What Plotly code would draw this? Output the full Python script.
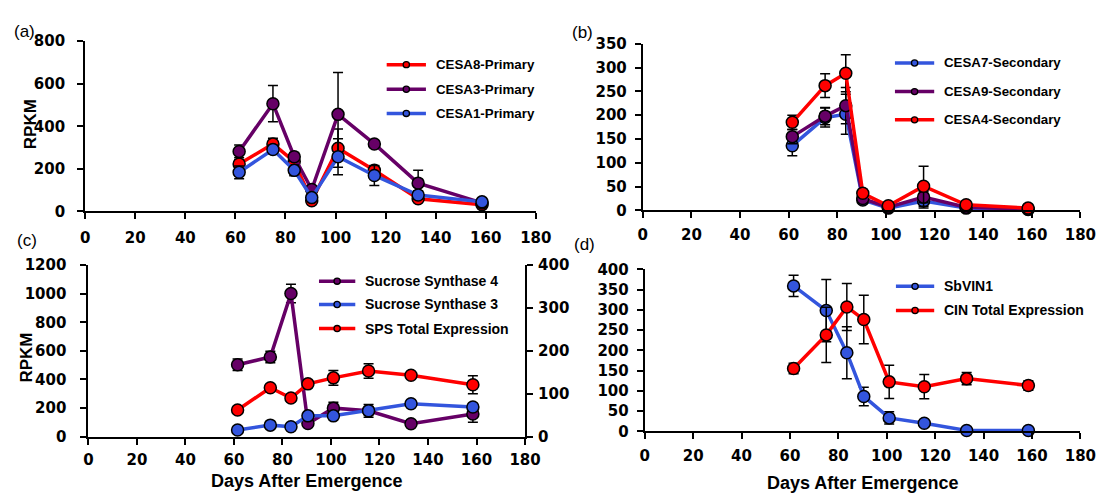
import plotly.graph_objects as go

W, H = 1117, 501

# Sampling dates (days after emergence), shared by all four panels
days = [61.5, 75, 83.5, 90.5, 101, 115.5, 133, 158.5]
x_ticks = [0, 20, 40, 60, 80, 100, 120, 140, 160, 180]

# (a) primary cell wall CESA genes (RPKM, mean and error)
cesa8_primary = [223, 317, 234, 50, 297, 193, 60, 32]
cesa8_primary_err = [20, 27, 20, 15, 90, 20, 15, 10]
cesa3_primary = [282, 506, 257, 103, 456, 317, 133, 40]
cesa3_primary_err = [30, 85, 20, 15, 196, 15, 60, 10]
cesa1_primary = [184, 291, 193, 65, 257, 169, 77, 45]
cesa1_primary_err = [30, 20, 25, 15, 85, 47, 20, 10]

# (b) secondary cell wall CESA genes
cesa7_secondary = [136, 195, 202, 22, 5, 20, 5, 2]
cesa7_secondary_err = [21, 20, 42, 5, 3, 15, 3, 1]
cesa9_secondary = [155, 198, 220, 25, 7, 28, 7, 3]
cesa9_secondary_err = [15, 18, 38, 5, 3, 12, 3, 1]
cesa4_secondary = [185, 262, 288, 36, 10, 51, 12, 5]
cesa4_secondary_err = [15, 25, 39, 8, 4, 42, 4, 2]

# (c) sucrose synthases (left axis) and SPS total (right axis)
sus4 = [503, 557, 1001, 91, 199, 180, 90, 158]
sus4_err = [40, 40, 65, 15, 42, 44, 15, 57]
sus3 = [46, 80, 69, 145, 145, 181, 230, 207]
sus3_err = [10, 10, 10, 15, 15, 15, 20, 20]
sps_total = [62, 114, 90, 123, 137, 153, 143, 121]
sps_total_err = [5, 5, 5, 7, 17, 17, 7, 21]

# (d) invertases
sbvin1 = [359, 298, 194, 86, 33, 20, 2, 2]
sbvin1_err = [26, 77, 64, 23, 15, 8, 3, 3]
cin_total = [155, 238, 307, 276, 122, 110, 130, 113]
cin_total_err = [13, 68, 58, 60, 41, 30, 15, 12]

RED = "#ff0000"
PURPLE = "#660066"
BLUE = "#3355dd"

TICK_FONT = dict(family="DejaVu Sans", size=15, color="black", weight="bold")
LEG_FONT_SMALL = dict(family="Liberation Sans", size=13.3, color="black", weight="bold")
LEG_FONT = dict(family="Liberation Sans", size=14, color="black", weight="bold")
TITLE_FONT = dict(family="Liberation Sans", size=18, color="black", weight="bold")
YTITLE_FONT = dict(family="Liberation Sans", size=17, color="black", weight="bold")
PANEL_FONT = dict(family="Liberation Sans", size=17, color="black")


def px(x):
    return x / W


def py(y):
    return 1 - y / H


fig = go.Figure()


def series(xa, ya, y, err, color, name):
    fig.add_trace(go.Scatter(
        x=days, y=y, name=name, xaxis=xa, yaxis=ya,
        mode="lines+markers", cliponaxis=False, showlegend=False,
        line=dict(color=color, width=3.5),
        marker=dict(size=12, color=color, line=dict(color="black", width=1.5)),
        error_y=dict(type="data", array=err, color="black", thickness=1.5, width=5),
    ))


# panel (a)
series("x", "y", cesa8_primary, cesa8_primary_err, RED, "CESA8-Primary")
series("x", "y", cesa3_primary, cesa3_primary_err, PURPLE, "CESA3-Primary")
series("x", "y", cesa1_primary, cesa1_primary_err, BLUE, "CESA1-Primary")
# panel (b)
series("x2", "y2", cesa7_secondary, cesa7_secondary_err, BLUE, "CESA7-Secondary")
series("x2", "y2", cesa9_secondary, cesa9_secondary_err, PURPLE, "CESA9-Secondary")
series("x2", "y2", cesa4_secondary, cesa4_secondary_err, RED, "CESA4-Secondary")
# panel (c)
series("x3", "y3", sus4, sus4_err, PURPLE, "Sucrose Synthase 4")
series("x3", "y3", sus3, sus3_err, BLUE, "Sucrose Synthase 3")
series("x3", "y5", sps_total, sps_total_err, RED, "SPS Total Expression")
# panel (d)
series("x4", "y4", sbvin1, sbvin1_err, BLUE, "SbVIN1")
series("x4", "y4", cin_total, cin_total_err, RED, "CIN Total Expression")

axis_common = dict(
    showline=True, linecolor="black", linewidth=2, mirror=False,
    ticks="outside", ticklen=6, tickwidth=2, tickcolor="black",
    showgrid=False, zeroline=False, tickfont=TICK_FONT,
)


def xaxis(left, right, anchor, standoff):
    return dict(axis_common, domain=[px(left), px(right)], anchor=anchor,
                range=[0, 180], tickvals=x_ticks, ticklabelstandoff=standoff)


def yaxis(top, bottom, anchor, rng, dtick, standoff):
    return dict(axis_common, domain=[py(bottom), py(top)], anchor=anchor,
                range=rng, dtick=dtick, tick0=0, ticklabelstandoff=standoff)


fig.update_layout(
    width=W, height=H,
    margin=dict(l=0, r=0, t=0, b=0),
    paper_bgcolor="white", plot_bgcolor="white",
    xaxis=xaxis(81.7, 541, "y", 6),
    yaxis=yaxis(33.3, 210, "x", [0, 800], 200, 9),
    xaxis2=xaxis(650, 1096, "y2", 4),
    yaxis2=yaxis(36, 209, "x2", [0, 350], 50, 5),
    xaxis3=xaxis(85, 530, "y3", 2),
    yaxis3=yaxis(265.7, 443.5, "x3", [0, 1200], 200, 11),
    xaxis4=xaxis(652, 1096, "y4", 4),
    yaxis4=yaxis(270, 438, "x4", [0, 400], 50, 5),
    yaxis5=dict(axis_common, overlaying="y3", anchor="x3", side="right",
                range=[0, 400], dtick=100, tick0=0, ticklabelstandoff=2),
)

shapes = []
annotations = []


def legend_entry(x0, x1, y, color, text, font):
    shapes.append(dict(type="line", xref="paper", yref="paper",
                       x0=px(x0), x1=px(x1), y0=py(y), y1=py(y),
                       line=dict(color=color, width=3.5)))
    cx = (x0 + x1) / 2
    shapes.append(dict(type="circle", xref="paper", yref="paper",
                       x0=px(cx - 3.2), x1=px(cx + 3.2),
                       y0=py(y + 3.2), y1=py(y - 3.2),
                       fillcolor=color, line=dict(color="black", width=1.3)))
    annotations.append(dict(text=text, xref="paper", yref="paper",
                            x=px(x1 + 8), y=py(y), xanchor="left", yanchor="middle",
                            showarrow=False, font=font))


legend_entry(389, 429, 57.7, RED, "CESA8-Primary", LEG_FONT_SMALL)
legend_entry(389, 429, 83.3, PURPLE, "CESA3-Primary", LEG_FONT_SMALL)
legend_entry(389, 429, 108.3, BLUE, "CESA1-Primary", LEG_FONT_SMALL)

legend_entry(907, 947, 56, BLUE, "CESA7-Secondary", LEG_FONT_SMALL)
legend_entry(907, 947, 85.7, PURPLE, "CESA9-Secondary", LEG_FONT_SMALL)
legend_entry(907, 947, 115, RED, "CESA4-Secondary", LEG_FONT_SMALL)

legend_entry(320, 357, 282.3, PURPLE, "Sucrose Synthase 4", LEG_FONT)
legend_entry(320, 357, 306.5, BLUE, "Sucrose Synthase 3", LEG_FONT)
legend_entry(320, 357, 331.5, RED, "SPS Total Expression", LEG_FONT)

legend_entry(908, 947, 287.7, BLUE, "SbVIN1", LEG_FONT)
legend_entry(908, 947, 312.7, RED, "CIN Total Expression", LEG_FONT)


def label(text, x, y, font, angle=0):
    annotations.append(dict(text=text, xref="paper", yref="paper",
                            x=px(x), y=py(y), xanchor="center", yanchor="middle",
                            showarrow=False, font=font, textangle=angle))


label("(a)", 20, 23, PANEL_FONT)
label("(b)", 589, 24, PANEL_FONT)
label("(c)", 22, 240, PANEL_FONT)
label("(d)", 591, 244, PANEL_FONT)

label("RPKM", 26, 120, YTITLE_FONT, -90)
label("RPKM", 22, 362, YTITLE_FONT, -90)
label("Days After Emergence", 307.5, 490, TITLE_FONT)
label("Days After Emergence", 874, 492, TITLE_FONT)

fig.update_layout(shapes=shapes, annotations=annotations)

fig.write_html("out.html", post_script="document.body.style.margin='0';")
